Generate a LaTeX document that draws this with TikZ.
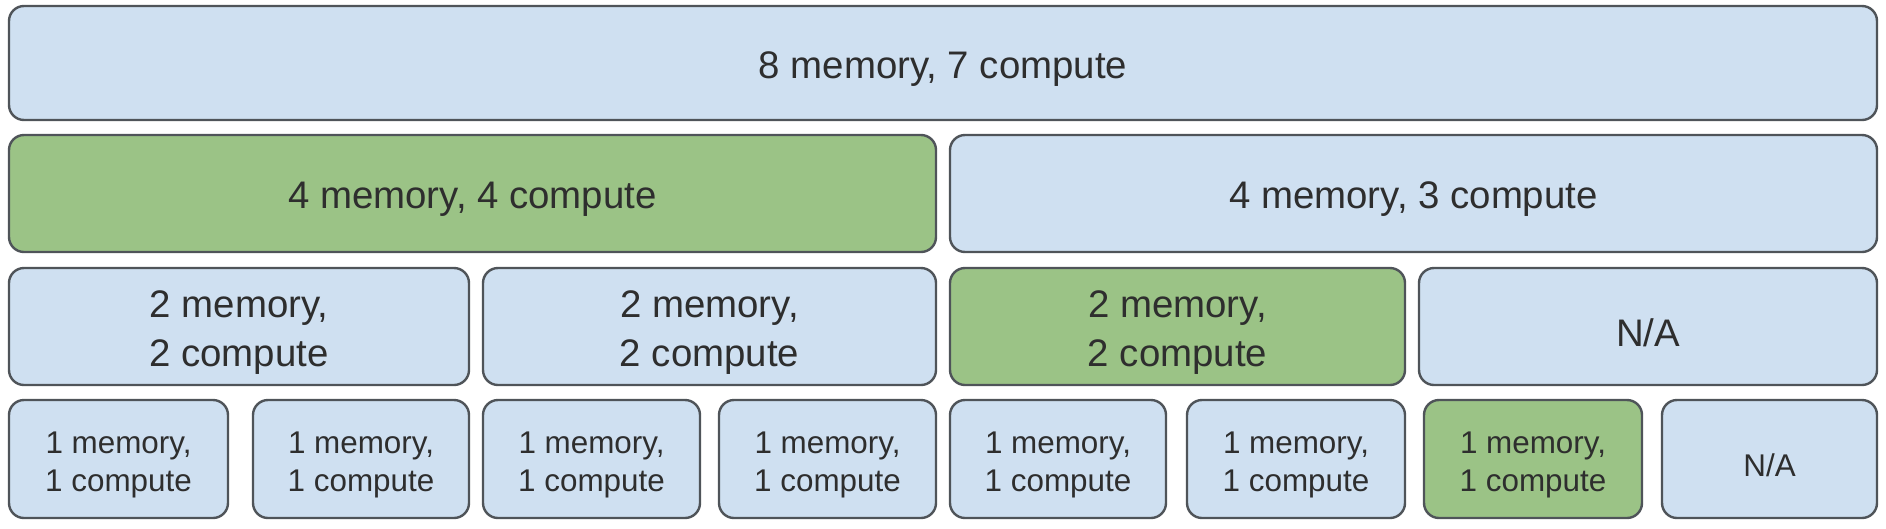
\documentclass[tikz,border=0pt]{standalone}
\usepackage{fontspec}
\setmainfont{Liberation Sans}
\definecolor{lblue}{HTML}{CFE0F1}
\definecolor{lgreen}{HTML}{9BC386}
\definecolor{bordergray}{HTML}{4F5459}
\definecolor{textgray}{HTML}{2E2E2E}
\tikzset{
  box/.style={draw=bordergray, line width=2.4pt, rounded corners=15pt, fill=lblue,
    inner sep=0pt},
  gbox/.style={box, fill=lgreen},
  bigtxt/.style={font=\fontsize{38.4}{49}\selectfont, align=center, text=textgray, inner sep=0pt},
  smalltxt/.style={font=\fontsize{31.4}{38}\selectfont, align=center, text=textgray, inner sep=0pt},
}
\newcommand{\boxat}[8]{% name, box style, text style, x1, y1, x2, y2, text
  \node[#2, minimum width={#6-#4}, minimum height={#7-#5}] (#1) at ({(#4+#6)/2},{(#5+#7)/2}) {};
  \node[#3] (#1-t) at ([yshift=-6pt]#1.center) {#8};}
\begin{document}
\begin{tikzpicture}[x=1pt,y=-1pt]
\useasboundingbox (0,0) rectangle (1886,528);
% top row
\boxat{top}{box}{bigtxt}{9}{6}{1877}{120}{8 memory, 7 compute}
% row 2
\boxat{ra}{gbox}{bigtxt}{9}{135}{936}{252}{4 memory, 4 compute}
\boxat{rb}{box}{bigtxt}{950}{135}{1877}{252}{4 memory, 3 compute}
% row 3
\boxat{qa}{box}{bigtxt}{9}{268}{469}{385}{2 memory,\\2 compute}
\boxat{qb}{box}{bigtxt}{483}{268}{936}{385}{2 memory,\\2 compute}
\boxat{qc}{gbox}{bigtxt}{950}{268}{1405}{385}{2 memory,\\2 compute}
\boxat{qd}{box}{bigtxt}{1419}{268}{1877}{385}{N/A}
% row 4
\boxat{pa}{box}{smalltxt}{9}{400}{228}{518}{1 memory,\\1 compute}
\boxat{pb}{box}{smalltxt}{253}{400}{469}{518}{1 memory,\\1 compute}
\boxat{pc}{box}{smalltxt}{483}{400}{700}{518}{1 memory,\\1 compute}
\boxat{pd}{box}{smalltxt}{719}{400}{936}{518}{1 memory,\\1 compute}
\boxat{pe}{box}{smalltxt}{950}{400}{1166}{518}{1 memory,\\1 compute}
\boxat{pf}{box}{smalltxt}{1187}{400}{1405}{518}{1 memory,\\1 compute}
\boxat{pg}{gbox}{smalltxt}{1424}{400}{1642}{518}{1 memory,\\1 compute}
\boxat{ph}{box}{smalltxt}{1662}{400}{1877}{518}{N/A}
\end{tikzpicture}
\end{document}
